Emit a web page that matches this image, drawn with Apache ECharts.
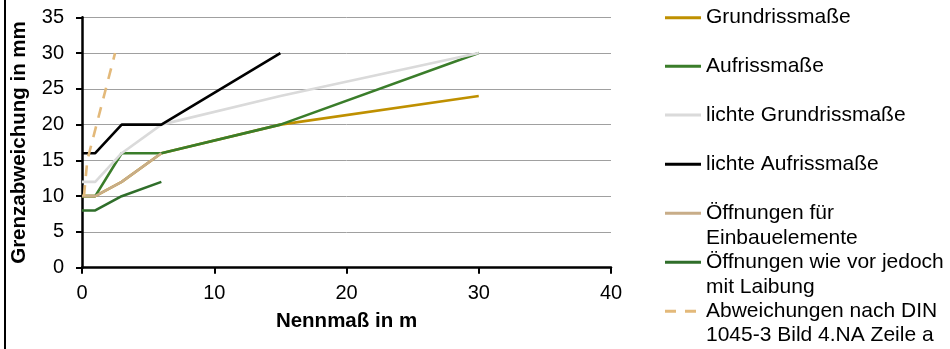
<!DOCTYPE html>
<html>
<head>
<meta charset="utf-8">
<script src="https://cdn.jsdelivr.net/npm/echarts@6/dist/echarts.min.js"></script>
<style>
  html, body { margin: 0; padding: 0; background: #fff; }
  #wrap { position: relative; width: 950px; height: 349px; }
  #chart { width: 950px; height: 349px; }
  #edge { position: absolute; left: 4px; top: 0; width: 2px; height: 349px; background: #000; }
</style>
</head>
<body>
<div id="wrap">
  <div id="chart"></div>
  <div id="edge"></div>
</div>
<script>
// Nennmaß breakpoints in m (DIN 18202, Tabelle 1)
const lengthsM = [0, 1, 3, 6, 15, 30];

// Grenzabweichungen in mm
const grundriss        = [10, 10, 12, 16, 20, 24];
const aufriss          = [10, 10, 16, 16, 20, 30];
const lichteGrundriss  = [12, 12, 16, 20, 24, 30];
const lichteAufriss    = [16, 16, 20, 20, 30];
const oeffnungen       = [10, 10, 12, 16];
const oeffnungenLaib   = [8, 8, 10, 12];

// DIN 1045-3 Bild 4.NA Zeile a
const dinLengthsM = [0.15, 0.4, 2.5];
const dinValues   = [10, 15, 30];

const xTicks = { min: 0, max: 40, interval: 10 };
const yTicks = { min: 0, max: 35, interval: 5 };

const names = [
  'Grundrissmaße',
  'Aufrissmaße',
  'lichte Grundrissmaße',
  'lichte Aufrissmaße',
  'Öffnungen für\nEinbauelemente',
  'Öffnungen wie vor jedoch\nmit Laibung',
  'Abweichungen nach DIN\n1045-3 Bild 4.NA Zeile a'
];
const colors = ['#BF9000', '#3A7D2A', '#DADADA', '#000000', '#C8AD88', '#2F6E2A', '#E3B97A'];

const pairs = (xs, ys) => ys.map((v, i) => [xs[i], v]);
const seriesData = [
  pairs(lengthsM, grundriss),
  pairs(lengthsM, aufriss),
  pairs(lengthsM, lichteGrundriss),
  pairs(lengthsM, lichteAufriss),
  pairs(lengthsM, oeffnungen),
  pairs(lengthsM, oeffnungenLaib),
  pairs(dinLengthsM, dinValues)
];

const FONT = '"Liberation Sans", Arial, sans-serif';
const LH = 24.5;
const legendCenters = [17.7, 66.2, 115.1, 164.2, 213.3, 262.3, 311.2];
const ITEM_W = 36;
const ITEM_H = 3;
// legend keys: a solid bar, or two dashes for the dashed series
const SOLID_ICON = 'path://M0,0H36V3H0Z';
const DASH_ICON = 'path://M0,0H11V3H0Z M20,0H31V3H20Z M36,0H36V3H36Z';

const legends = names.map((n, i) => {
  const twoLines = n.indexOf('\n') >= 0;
  // a leading empty line puts the first text line level with the key
  const boxH = twoLines ? 3 * LH : LH;
  return {
    data: [{ name: n, icon: i === 6 ? DASH_ICON : SOLID_ICON }],
    orient: 'vertical',
    left: 665,
    top: legendCenters[i] - boxH / 2,
    padding: 0,
    itemWidth: ITEM_W,
    itemHeight: ITEM_H,
    itemGap: 0,
    selectedMode: false,
    formatter: (name) => (twoLines ? '\n' + name : name),
    textStyle: {
      fontFamily: FONT,
      fontSize: 21,
      color: '#000',
      lineHeight: LH
    }
  };
});

const chart = echarts.init(document.getElementById('chart'), null, { renderer: 'canvas' });
chart.setOption({
  backgroundColor: '#fff',
  animation: false,
  grid: { left: 82, right: 339, top: 17.3, bottom: 81.3, containLabel: false },
  legend: legends,
  xAxis: {
    type: 'value',
    min: xTicks.min, max: xTicks.max, interval: xTicks.interval,
    name: 'Nennmaß in m',
    nameLocation: 'middle',
    nameGap: 43,
    nameTextStyle: { fontFamily: FONT, fontSize: 20.5, fontWeight: 'bold', color: '#000' },
    axisLine: { show: true, onZero: false, lineStyle: { color: '#000', width: 2.5 } },
    axisTick: { show: true, length: 6, lineStyle: { color: '#000', width: 2 } },
    axisLabel: { fontFamily: FONT, fontSize: 20, color: '#000', margin: 16 },
    splitLine: { show: false }
  },
  yAxis: {
    type: 'value',
    min: yTicks.min, max: yTicks.max, interval: yTicks.interval,
    name: 'Grenzabweichung in mm',
    nameLocation: 'middle',
    nameGap: 52,
    nameTextStyle: { fontFamily: FONT, fontSize: 20.5, fontWeight: 'bold', color: '#000' },
    axisLine: { show: true, onZero: false, lineStyle: { color: '#000', width: 2.5 } },
    axisTick: { show: true, length: 6, lineStyle: { color: '#000', width: 2 } },
    axisLabel: { fontFamily: FONT, fontSize: 20, color: '#000', margin: 18 },
    splitLine: { show: true, lineStyle: { color: '#A0A0A0', width: 1 } }
  },
  series: names.map((n, i) => ({
    name: n,
    type: 'line',
    data: seriesData[i],
    symbol: 'none',
    color: colors[i],
    lineStyle: {
      color: colors[i],
      width: 2.6,
      type: i === 6 ? [11, 9] : 'solid'
    },
    z: 2 + i
  }))
});
</script>
</body>
</html>
